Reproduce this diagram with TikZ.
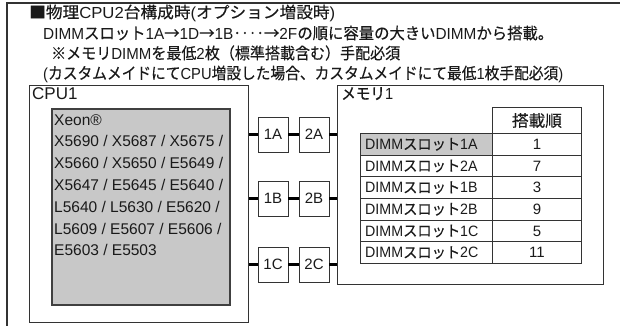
\documentclass[tikz,border=0pt]{standalone}
\usepackage{fontspec}
\usepackage{graphicx}
\setmainfont{Liberation Sans}
\newfontfamily\jpf[FakeBold=0.4]{Noto Sans CJK JP}
\newcommand{\J}[1]{{\jpf #1}}
\newcommand{\fitto}[2]{\resizebox{#1}{\height}{#2}}
\definecolor{boxgray}{HTML}{C8C8C8}
\definecolor{linec}{HTML}{333333}
\definecolor{txt}{HTML}{1A1A1A}
\begin{document}
\begin{tikzpicture}[x=1pt,y=-1pt,
  txtfont/.style={font=\fontsize{15}{15}\selectfont, text=txt},
  bigfont/.style={font=\fontsize{16}{16}\selectfont, text=txt},
  titleline/.style={bigfont, anchor=west, inner sep=0},
  framebox/.style={draw=linec, line width=1pt, anchor=north west, inner sep=0},
  port/.style={draw=linec, line width=0.9pt, minimum width=30, minimum height=35, inner sep=0, txtfont},
  bus/.style={line width=3pt, draw=black},
  cell/.style={draw=linec, line width=0.9pt, inner sep=0, anchor=north west, txtfont}
]
\useasboundingbox (0,0) rectangle (620,325);
% outer frame (top and left sides)
\coordinate (otl) at (7,3);
\coordinate (otr) at (621,3);
\coordinate (obl) at (7,326);
\draw[draw=linec, line width=1.2pt] (otr) -- (otl) -- (obl);

% title lines
\node[titleline] (t1) at (29,13) {\fitto{306pt}{\J{■物理}CPU2\J{台構成時}(\J{オプション増設時})}};
\node[titleline] (t2) at (43,33) {\fitto{510pt}{DIMM\J{スロット}1A\J{→}1D\J{→}1B\J{‥‥→}2F\J{の順に容量の大きい}DIMM\J{から搭載。}}};
\node[titleline] (t3) at (51,53) {\fitto{349pt}{\J{※メモリ}DIMM\J{を最低}2\J{枚（標準搭載含む）手配必須}}};
\node[titleline] (t4) at (43,74) {\fitto{520pt}{(\J{カスタムメイドにて}CPU\J{増設した場合、カスタムメイドにて最低}1\J{枚手配必須})}};

% CPU box
\node[framebox, minimum width=219, minimum height=237] (cpu) at (29,85) {};
\node[font=\fontsize{17}{17}\selectfont, text=txt, anchor=north west, inner sep=0] (cpulbl) at (32,87) {CPU1};
\node[framebox, draw=black!75, line width=1.8pt, fill=boxgray, minimum width=178, minimum height=196] (chip) at (51,108) {};
\node[anchor=north west, inner sep=0, align=left, font=\fontsize{15.5}{21.8}\selectfont, text=txt] (chiptxt) at (54,114)
  {Xeon®\\X5690 / X5687 / X5675 /\\X5660 / X5650 / E5649 /\\X5647 / E5645 / E5640 /\\L5640 / L5630 / E5620 /\\L5609 / E5607 / E5606 /\\E5603 / E5503};

% memory box
\node[framebox, minimum width=266, minimum height=199] (mem) at (337,85) {};
\node[bigfont, anchor=north west, inner sep=0] (memlbl) at (341,87) {\fitto{52pt}{\J{メモリ}1}};

% ports
\node[port] (p1a) at (273,134.5) {1A};
\node[port] (p2a) at (314,134.5) {2A};
\node[port] (p1b) at (273,198.5) {1B};
\node[port] (p2b) at (314,198.5) {2B};
\node[port] (p1c) at (273,264.8) {1C};
\node[port] (p2c) at (314,264.8) {2C};

\foreach \r in {a,b,c}{
  \draw[bus] (cpu.east |- p1\r.west) -- (p1\r.west);
  \draw[bus] (p1\r.east) -- (p2\r.west);
  \draw[bus] (p2\r.east) -- (mem.west |- p2\r.east);
}

% table
\node[cell, minimum width=89, minimum height=26, bigfont] (hdr) at (492,107) {\fitto{50pt}{\J{搭載順}}};
\foreach \lab/\num [count=\i] in {1A/1,2A/7,1B/3,2B/9,1C/5,2C/11}{
  \pgfmathsetmacro{\yy}{133+(\i-1)*21.67}
  \ifnum\i=1
    \node[cell, fill=boxgray, minimum width=132, minimum height=21.67] (r\i) at (360,\yy) {};
  \else
    \node[cell, minimum width=132, minimum height=21.67] (r\i) at (360,\yy) {};
  \fi
  \node[txtfont, anchor=west, inner sep=0] (rl\i) at ([xshift=5pt]r\i.west) {\scalebox{0.95}[1]{DIMM\J{スロット}\lab}};
  \node[cell, minimum width=89, minimum height=21.67] (n\i) at (492,\yy) {\num};
}
\end{tikzpicture}
\end{document}
